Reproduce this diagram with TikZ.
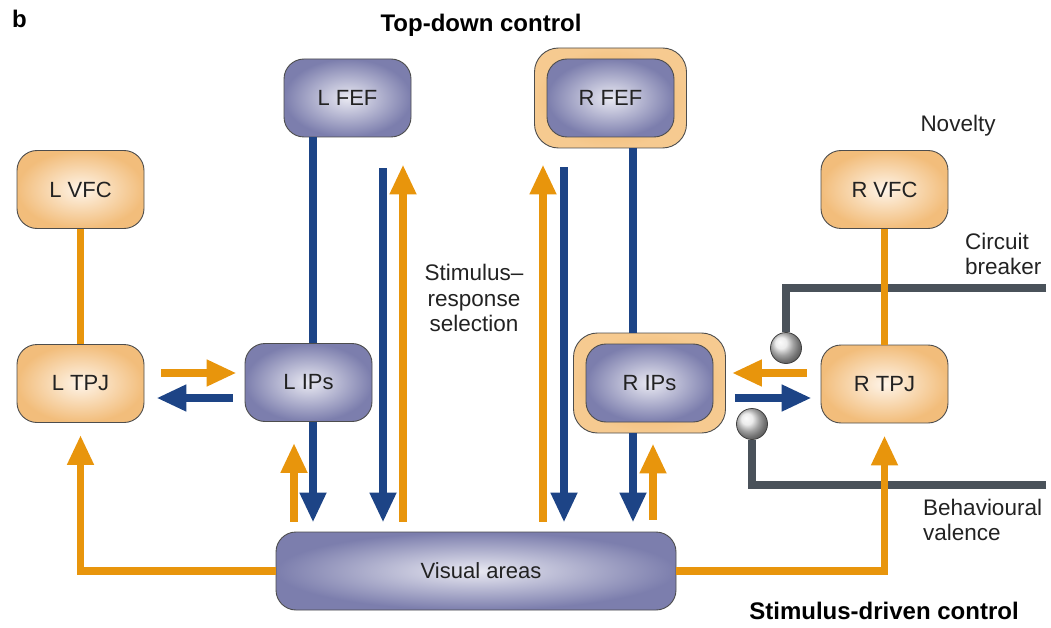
\documentclass[tikz,border=0pt]{standalone}
\usepackage{fontspec}
\setmainfont{Liberation Sans}
\usetikzlibrary{arrows.meta,calc,shadings}
\definecolor{orng}{HTML}{E8950C}
\definecolor{blu}{HTML}{1D4486}
\definecolor{gry}{HTML}{4A525A}
\definecolor{oedge}{HTML}{F2BD7B}
\definecolor{ocen}{HTML}{FEF4E8}
\definecolor{bedge}{HTML}{7C7EAD}
\definecolor{bcen}{HTML}{E9E9F2}
\definecolor{ringin}{HTML}{EDAE5E}
\definecolor{ringout}{HTML}{F6CA90}
\definecolor{outl}{HTML}{4D4D4D}
\definecolor{txt}{HTML}{222222}
\begin{document}
\begin{tikzpicture}[x=1pt,y=-1pt,
  box/.style={rounded corners=20pt, draw=outl, line width=0.9pt, minimum width=127pt, minimum height=78pt, inner sep=0pt, font=\fontsize{22}{26}\selectfont, text=txt},
  obox/.style={box, inner color=ocen, outer color=oedge},
  bbox/.style={box, inner color=bcen, outer color=bedge},
  ringbox/.style={rounded corners=24pt, draw=outl, line width=0.9pt, minimum width=152pt, minimum height=100pt, inner sep=0pt, inner color=ringin, outer color=ringout},
  oline/.style={draw=orng, line width=7.5pt},
  bline/.style={draw=blu, line width=7.5pt},
  gline/.style={draw=gry, line width=7.5pt},
  oarr/.style={oline, -{Triangle[length=30pt,width=25pt]}},
  barr/.style={bline, -{Triangle[length=30pt,width=25pt]}},
  knob/.style={circle, minimum size=31pt, inner sep=0pt, draw=black!75, line width=0.8pt, ball color=gray!20},
  lab/.style={inner sep=0pt, text=txt, font=\fontsize{22.5}{25.5}\selectfont},
  ttl/.style={inner sep=0pt, text=black, font=\bfseries\fontsize{24}{28}\selectfont}
]
\useasboundingbox (0,0) rectangle (1051,628);

% boxes
\node[obox] (lvfc) at (80.5,189.5) {L VFC};
\node[obox] (ltpj) at (80.5,383.5) {L TPJ};
\node[bbox] (lfef) at (347.5,98) {L FEF};
\node[bbox] (lips) at (308.5,382.5) {L IPs};
\node[ringbox] (rfefo) at (610.5,98) {};
\node[bbox] (rfef) at (610.5,98) {R FEF};
\node[ringbox] (ripso) at (649.5,383) {};
\node[bbox] (rips) at (649.5,383) {R IPs};
\node[obox] (rtpj) at (884.5,384) {R TPJ};
\node[obox] (rvfc) at (884.5,189.5) {R VFC};
\node[bbox, minimum width=400pt] (vis) at (476,571) {\hspace*{10pt}Visual areas};

% columns and rows
\coordinate (cA) at (294,0);
\coordinate (cB) at (313,0);
\coordinate (cC) at (383,0);
\coordinate (cD) at (403,0);
\coordinate (cE) at (543,0);
\coordinate (cF) at (564,0);
\coordinate (cG) at (633,0);
\coordinate (cH) at (653,0);
\coordinate (rU) at (0,373);
\coordinate (rD) at (0,398);
\coordinate (cbend) at (1046,288);
\coordinate (bvend) at (1046,485);

% grey modulators
\node[knob] (cbk) at (786,348) {};
\node[knob] (bvk) at (752,424) {};
\draw[gline] (cbend) -| (cbk.north);
\draw[gline] (bvend) -| (bvk.south);

% left side
\draw[oline] (lvfc.south) -- (ltpj.north);
\draw[oarr, shorten <=17pt, shorten >=8pt] (ltpj.east |- rU) -- (lips.west |- rU);
\draw[barr, shorten <=12pt, shorten >=12pt] (lips.west |- rD) -- (ltpj.east |- rD);
\draw[bline] (cB |- lfef.south) -- (cB |- lips.north);
\draw[barr, shorten >=9pt] (cB |- lips.south) -- (cB |- vis.north);
\draw[oarr, shorten <=10pt, shorten >=21pt] (cA |- vis.north) -- (cA |- lips.south);
\draw[barr, shorten <=31pt, shorten >=9pt] (cC |- lfef.south) -- (cC |- vis.north);
\draw[oarr, shorten <=10pt, shorten >=27pt] (cD |- vis.north) -- (cD |- lfef.south);
\draw[oarr] (vis.west) -| ([yshift=-12pt]ltpj.south);

% centre right
\draw[oarr, shorten <=10pt, shorten >=16pt] (cE |- vis.north) -- (cE |- rfefo.south);
\draw[barr, shorten <=19pt, shorten >=9pt] (cF |- rfefo.south) -- (cF |- vis.north);
\draw[bline] (cG |- rfefo.south) -- (cG |- ripso.north);
\draw[barr, shorten >=9pt] (cG |- ripso.south) -- (cG |- vis.north);
\draw[oarr, shorten <=12pt, shorten >=10pt] (cH |- vis.north) -- (cH |- ripso.south);

% right side
\draw[oline] (rvfc.south) -- (rtpj.north);
\draw[oarr, shorten <=14pt, shorten >=6pt] (rtpj.west |- rU) -- (ripso.east |- rU);
\draw[barr, shorten <=9pt, shorten >=9pt] (ripso.east |- rD) -- (rtpj.west |- rD);
\draw[oarr] (vis.east) -| ([yshift=-12pt]rtpj.south);

% labels
\node[inner sep=0pt, anchor=west, font=\bfseries\fontsize{24}{28}\selectfont] (blbl) at (12,19) {b};
\node[ttl] (tdc) at (481,25) {Top-down control};
\node[ttl] (sdc) at (884,611) {Stimulus-driven control};
\node[lab] (nov) at (958,126) {Novelty};
\node[lab, align=left, anchor=west] (cbt) at (965,254) {Circuit\\breaker};
\node[lab, align=left, anchor=west] (bvt) at (923,520) {Behavioural\\valence};
\node[lab, align=center] (srs) at (474,298) {Stimulus–\\response\\selection};
\end{tikzpicture}
\end{document}
